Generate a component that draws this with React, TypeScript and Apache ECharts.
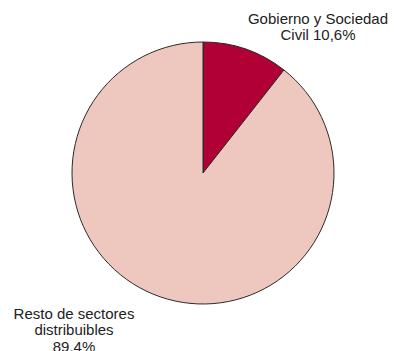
import React, { useEffect, useRef } from "react";
import * as echarts from "echarts";

const names = ["Gobierno y Sociedad Civil", "Resto de sectores distribuibles"];
const values = [10.6, 89.4];
const labelTexts = ["Gobierno y Sociedad\nCivil", "Resto de sectores\ndistribuibles\n"];
const colors = ["#b10036", "#eec8bf"];

export default function App() {
  const ref = useRef<HTMLDivElement>(null);
  useEffect(() => {
    document.body.style.margin = "0";
    const chart = echarts.init(ref.current!, null, { renderer: "svg" });
    chart.setOption({
      animation: false,
      backgroundColor: "#ffffff",
      series: [
        {
          type: "pie",
          center: [203, 173],
          radius: 131,
          startAngle: 90,
          clockwise: true,
          data: names.map((n, i) => ({
            name: n,
            value: values[i],
            itemStyle: { color: colors[i] },
          })),
          itemStyle: { borderColor: "#2a2a2a", borderWidth: 1 },
          label: {
            show: true,
            position: "outside",
            color: "#222",
            fontFamily: "Liberation Sans, Arial, sans-serif",
            fontSize: 15,
            lineHeight: 16.5,
            align: "center",
            overflow: "none",
            formatter: (p: any) =>
              labelTexts[p.dataIndex] +
              (p.dataIndex === 0 ? " " : "") +
              String(p.value).replace(".", ",") +
              "%",
          },
          labelLine: { show: false },
          labelLayout: (p: any) =>
            p.dataIndex === 0
              ? { x: 318, y: 10, align: "center", verticalAlign: "top" }
              : { x: 74, y: 305, align: "center", verticalAlign: "top" },
          emphasis: { disabled: true },
        },
      ],
    });
    return () => chart.dispose();
  }, []);
  return (
    <div
      ref={ref}
      style={{ position: "absolute", left: 0, top: 0, width: 394, height: 351 }}
    />
  );
}
